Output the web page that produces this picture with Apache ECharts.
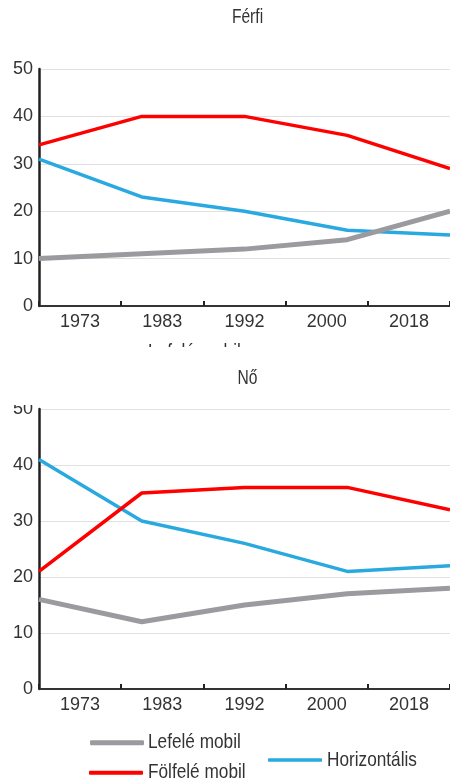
<!DOCTYPE html>
<html>
<head>
<meta charset="utf-8">
<script src="https://cdn.jsdelivr.net/npm/echarts@6/dist/echarts.min.js"></script>
<style>
html,body{margin:0;padding:0;background:#fff;width:450px;height:781px;overflow:hidden;}
#c1{position:absolute;left:0;top:0;width:450px;height:347px;}
#c2{position:absolute;left:0;top:347px;width:450px;height:434px;}
</style>
</head>
<body>
<div id="c1"></div>
<div id="c2"></div>
<script>
const categories = ['1973', '1983', '1992', '2000', '2018'];
const maleDown = [10, 11, 12, 14, 20];
const maleUp = [34, 40, 40, 36, 29];
const maleHoriz = [31, 23, 20, 16, 15];
const femaleDown = [16, 12, 15, 17, 18];
const femaleUp = [21, 35, 36, 36, 32];
const femaleHoriz = [41, 30, 26, 21, 22];
const seriesNames = ['Lefelé mobil', 'Fölfelé mobil', 'Horizontális'];
const titles = ['Férfi', 'Nő'];

const GRAY = '#9b9b9f', RED = '#ff0000', BLUE = '#29a9e0';
const SANS = "'Liberation Sans', Arial, sans-serif";

// narrow text emulated by horizontally scaled Liberation Sans
function narrowText(str, x, y, size, scale, align) {
  return {
    type: 'text', x: x, y: y, scaleX: scale, scaleY: 1, z: 50, silent: true,
    style: { text: str, x: 0, y: 0, fill: '#333', font: size + 'px ' + SANS,
      align: align, verticalAlign: 'middle' }
  };
}

// rowMid = vertical centre of the first legend row
function legends(rowMid) {
  const base = {
    orient: 'horizontal', padding: 0, itemGap: 0, icon: 'roundRect',
    itemWidth: 54, selectedMode: false, formatter: function () { return ''; },
    textStyle: { fontFamily: SANS, fontSize: 1, color: '#333' }
  };
  return [
    Object.assign({}, base, { left: 90, top: rowMid - 2.5, itemHeight: 5, data: [seriesNames[0]] }),
    Object.assign({}, base, { left: 89, top: rowMid + 30 - 2, itemHeight: 4, data: [seriesNames[1]] }),
    Object.assign({}, base, { left: 268, top: rowMid + 17.3 - 1.75, itemHeight: 3.5, data: [seriesNames[2]] })
  ];
}

function makeOption(title, titleMid, gridTop, gridHeight, down, up, horiz, rowMid, cover) {
  const graphic = [
    narrowText(title, 247.5, titleMid, 20, 0.78, 'center'),
    narrowText(seriesNames[0], 148, rowMid, 21, 0.82, 'left'),
    narrowText(seriesNames[1], 148, rowMid + 30, 21, 0.82, 'left'),
    narrowText(seriesNames[2], 327, rowMid + 17.3, 21, 0.82, 'left')
  ];
  if (cover) {
    graphic.push({ type: 'rect', left: 0, top: 0, z: 100, silent: true,
      shape: { width: 37, height: cover }, style: { fill: '#fff' } });
  }
  return {
    animation: false,
    backgroundColor: '#fff',
    legend: legends(rowMid),
    graphic: graphic,
    grid: { left: 39, top: gridTop, width: 417, height: gridHeight },
    xAxis: [
      {
        type: 'category', data: categories, boundaryGap: true,
        axisLine: { show: true, lineStyle: { color: '#333', width: 2 } },
        axisTick: { show: true, inside: true, length: 5, lineStyle: { color: '#222', width: 2 } },
        axisLabel: { fontFamily: SANS, fontSize: 18, color: '#333', margin: 7 },
        splitLine: { show: false }
      },
      {
        type: 'category', data: categories, boundaryGap: false, show: false
      }
    ],
    yAxis: {
      type: 'value', min: 0, max: 50, interval: 10,
      axisLine: { show: true, lineStyle: { color: '#231f20', width: 2.5 } },
      axisTick: { show: false },
      axisLabel: { fontFamily: SANS, fontSize: 18, color: '#333', margin: 6 },
      splitLine: { show: true, lineStyle: { color: '#e0e0e0', width: 1 } }
    },
    series: [
      { name: seriesNames[2], type: 'line', xAxisIndex: 1, data: horiz, symbol: 'none',
        lineStyle: { color: BLUE, width: 3.5 }, itemStyle: { color: BLUE } },
      { name: seriesNames[0], type: 'line', xAxisIndex: 1, data: down, symbol: 'none',
        lineStyle: { color: GRAY, width: 5 }, itemStyle: { color: GRAY } },
      { name: seriesNames[1], type: 'line', xAxisIndex: 1, data: up, symbol: 'none',
        lineStyle: { color: RED, width: 3.5 }, itemStyle: { color: RED } }
    ]
  };
}

const c1 = echarts.init(document.getElementById('c1'), null, { renderer: 'canvas' });
c1.setOption(makeOption(titles[0], 17.5, 69, 237, maleDown, maleUp, maleHoriz, 352, 0));
const c2 = echarts.init(document.getElementById('c2'), null, { renderer: 'canvas' });
c2.setOption(makeOption(titles[1], 31, 62, 280, femaleDown, femaleUp, femaleHoriz, 395.7, 58));
</script>
</body>
</html>
